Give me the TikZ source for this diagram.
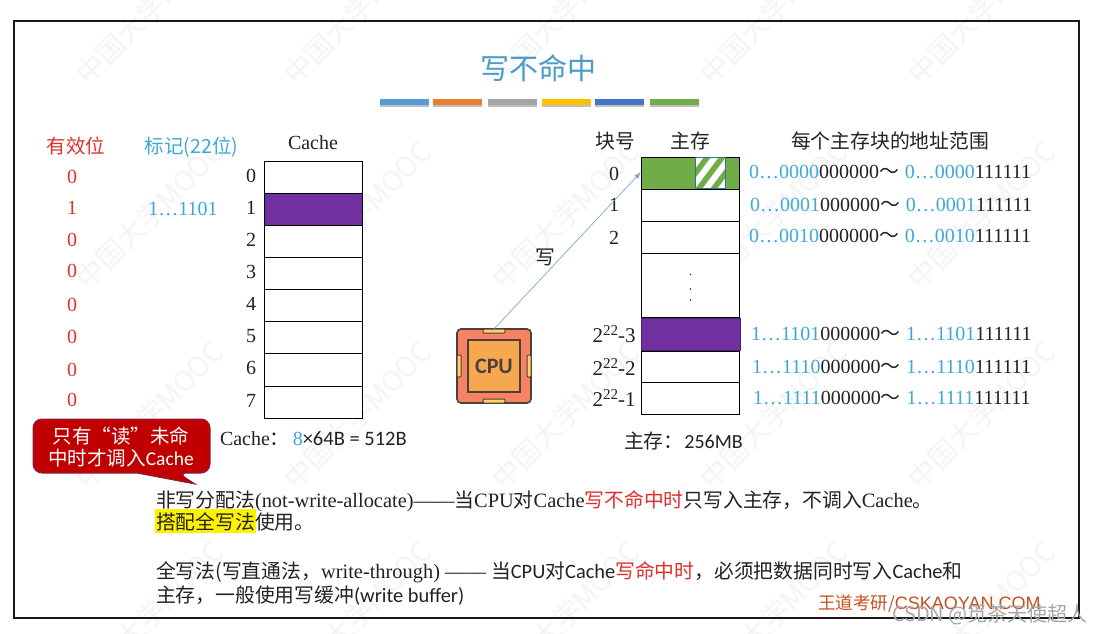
\documentclass[tikz,border=0pt]{standalone}
\usepackage{fontspec}
\usetikzlibrary{arrows.meta}
\setmainfont{Liberation Serif}
\newfontfamily\cjk{Noto Sans CJK SC}
\newfontfamily\cali{Carlito}
\newfontfamily\arl{Liberation Sans}
\definecolor{cblue}{HTML}{3FA9D6}
\definecolor{cred}{HTML}{E0302A}
\definecolor{ctitle}{HTML}{4A9CC8}
\definecolor{cpurple}{HTML}{7030A0}
\definecolor{cgreen}{HTML}{70AD47}
\definecolor{ink}{HTML}{222222}
\definecolor{wm}{HTML}{F4F4F4}
\definecolor{cpuline}{HTML}{4F3F3A}
\definecolor{cpuout}{HTML}{F78264}
\definecolor{cpuin}{HTML}{F6A850}
\definecolor{cpupin}{HTML}{FAD26E}
\definecolor{callfill}{HTML}{C00000}
\definecolor{callline}{HTML}{8A2040}
\definecolor{brandc}{HTML}{C5501E}
\definecolor{wline}{HTML}{7FA8D0}
\tikzset{
  x=1pt,y=-1pt,
  every node/.style={inner sep=0pt,outer sep=0pt,text=ink},
  cell/.style={draw=black,line width=0.9pt,fill=white},
  lbl/.style={font=\fontsize{20}{20}\selectfont},
  vbit/.style={font=\fontsize{20}{20}\selectfont,text=cred},
  zh/.style={font=\fontsize{19.8}{20}\cjk\selectfont},
  addr/.style={font=\fontsize{20}{20}\selectfont,anchor=west},
  para/.style={font=\fontsize{20.4}{20}\selectfont,anchor=west},
  wmark/.style={font=\fontsize{28}{28}\cjk\selectfont,text=wm,rotate=45},
  tbar/.style={minimum width=49pt,minimum height=6pt},
  pin/.style={fill=cpupin,draw=cpuline,line width=1pt,rounded corners=1pt}
}
\newcommand{\bl}[1]{\textcolor{cblue}{#1}}
\newcommand{\zz}[1]{{\cjk\fontsize{19.8}{20}\selectfont #1}}
\begin{document}
\begin{tikzpicture}
\useasboundingbox (0,0) rectangle (1100,634);
\fill[white] (0,0) rectangle (1100,634);
% watermarks
\foreach \yy in {75,280,480,680}{
  \foreach \xx in {85,293,501,709,917}{
    \node[wmark] (wm\xx\yy) at (\xx+65,\yy-65) {中国大学MOOC};
  }
}
\draw[line width=1.6pt,draw=black!90] (14,21) rectangle (1079,618);
% title
\node[font=\fontsize{29}{29}\cjk\selectfont,text=ctitle] (title) at (538.5,68) {写不命中};
\foreach \xx/\cc/\nn in {404.5/5B9BD5/a,457.5/ED7D31/b,512.5/A5A5A5/c,566.5/FFC000/d,619.5/4472C4/e,674.5/70AD47/f}{
  \definecolor{tmp}{HTML}{\cc}
  \fill[black!25] (\xx-24.5,100) rectangle (\xx+24.5,107);
  \node[tbar,fill=tmp] (bar\nn) at (\xx,102) {};
}
% headers
\node[font=\fontsize{19.5}{20}\cjk\selectfont,text=cred] (hvalid) at (76,146) {有效位};
\node[font=\fontsize{19.5}{20}\cjk\selectfont,text=cblue] (htag) at (191.5,147) {标记(22位)};
\node[lbl] (hcache) at (313,143) {Cache};
% valid
\foreach \i/\y/\v in {0/177/0,1/208/1,2/240/0,3/271/0,4/305/0,5/337/0,6/370/0,7/400/0}{
  \node[vbit] (v\i) at (72,\y) {\v};
}
\node[lbl,text=cblue] (tag1) at (183,209) {1…1101};
% cache
\foreach \i/\a/\h in {0/161/32,1/193/32,2/225/32,3/257/32,4/289/32,5/321/32,6/353/33,7/386/32}{
  \node[cell,anchor=north west,minimum width=98pt,minimum height=\h pt] (c\i) at (264.5,\a) {};
  \node[lbl] (ci\i) at (251,\a+15) {\i};
}
\node[cell,fill=cpurple,anchor=north west,minimum width=98pt,minimum height=32pt] (c1) at (264.5,193) {};
\node[anchor=west,font=\fontsize{20}{20}\selectfont] (csize) at (220,439) {Cache\zz{：}\hspace{3pt}\bl{8}{\cali\fontsize{20.5}{20}\selectfont ×64B = 512B}};
% callout
\draw[fill=callfill,draw=callline,line width=1pt,rounded corners=9pt]
  (33,419) -- (210,419) -- (210,473) -- (178,473) [sharp corners] -- (195,484) -- (137,473) [rounded corners=9pt] -- (33,473) -- cycle;
\node[font=\fontsize{19.5}{23}\cjk\selectfont,text=white,align=center] (calltxt) at (121,446.5) {只有“读”未命\\[-1pt]中时才调入{\cali Cache}};
% memory
\node[cell,fill=cgreen,anchor=north west,minimum width=98.5pt,minimum height=32pt] (m0) at (641,157) {};
\begin{scope}
  \clip (695,157.5) rectangle (725,188);
  \fill[white] (695,157) rectangle (725,189);
  \foreach \d in {-45,-30,...,45}{
    \fill[cgreen] (695+\d,189) -- (702+\d,189) -- (726+\d,157) -- (719+\d,157) -- cycle;
  }
\end{scope}
\draw[draw=cblue!70!black,line width=0.5pt] (695,157) rectangle (725,188);
\node[cell,anchor=north west,minimum width=98.5pt,minimum height=32pt] (m1) at (641,189) {};
\node[cell,anchor=north west,minimum width=98.5pt,minimum height=32pt] (m2) at (641,221) {};
\node[cell,anchor=north west,minimum width=98.5pt,minimum height=64pt] (mdots) at (641,253) {};
\node[cell,fill=cpurple,draw=cpurple!70!black,anchor=north west,minimum width=99.5pt,minimum height=32pt] (m3) at (641,318) {};
\node[cell,anchor=north west,minimum width=98.5pt,minimum height=31pt] (m4) at (641,351) {};
\node[cell,anchor=north west,minimum width=98.5pt,minimum height=32pt] (m5) at (641,382) {};
\foreach \i/\y in {1/274.5,2/289,3/300}{\fill[black!80] (690.5,\y) circle (0.8pt);}
\node[zh] (hblock) at (615,141) {块号};
\node[zh] (hmem) at (690,141) {主存};
\node[zh] (hrange) at (890,141) {每个主存块的地址范围};
\node[lbl] (bn0) at (614,174) {0};
\node[lbl] (bn1) at (614,205) {1};
\node[lbl] (bn2) at (614,238) {2};
\node[font=\fontsize{21}{21}\selectfont] (bn3) at (614,334) {2\raisebox{6.5pt}{\fontsize{15}{15}\selectfont 22}-3};
\node[font=\fontsize{21}{21}\selectfont] (bn4) at (614,367) {2\raisebox{6.5pt}{\fontsize{15}{15}\selectfont 22}-2};
\node[font=\fontsize{21}{21}\selectfont] (bn5) at (614,398) {2\raisebox{6.5pt}{\fontsize{15}{15}\selectfont 22}-1};
\node[anchor=west] (msize) at (624,441) {\zz{主存：}\hspace{1pt}{\cali\fontsize{20}{20}\selectfont 256MB}};
% addresses
\newcommand{\addrline}[4]{\node[addr] (#1) at (#2,#3) {\bl{#4}000000\zz{～}\hspace{6pt}\bl{#4}111111};}
\addrline{a0}{749}{172}{0…0000}
\addrline{a1}{750}{205}{0…0001}
\addrline{a2}{749}{236}{0…0010}
\addrline{a3}{751}{334}{1…1101}
\addrline{a4}{752}{367}{1…1110}
\addrline{a5}{753}{398}{1…1111}
% CPU
\draw[fill=cpuout,draw=cpuline,line width=1.6pt,rounded corners=4pt] (457,329) rectangle (531,403);
\draw[fill=cpuin,draw=cpuline,line width=1.5pt] (468,340) rectangle (520,392);
\draw[pin] (483,329) rectangle (505,333);
\draw[pin] (483,399) rectangle (505,403);
\draw[pin] (457,355) rectangle (461,377);
\draw[pin] (527,355) rectangle (531,377);
\node[minimum size=74pt] (cpu) at (494,366) {};
\node[font=\fontsize{22}{22}\cali\bfseries\selectfont,text=cpuline] (cputxt) at (494,366) {CPU};
\coordinate (wend) at (641,172);
\draw[-{Latex[length=7pt,width=5pt]},draw=wline,line width=0.7pt] (cpu.north) -- (wend);
\node[zh] (wlabel) at (545,257) {写};
% paragraphs
\node[para] (p1) at (156,501) {\zz{非写分配法}(not-write-allocate)——\zz{当}CPU\zz{对}Cache\textcolor{cred}{\zz{写不命中时}}\zz{只写入主存，不调入}Cache\zz{。}};
\node[anchor=north west,fill=yellow,minimum width=101pt,minimum height=24pt] (hl) at (155,509) {};
\node[para] (p2) at (156,522) {\zz{搭配全写法使用。}};
\node[para] (p3) at (156,572) {\zz{全写法(写直通法，}write-through) —— \zz{当}{\cali CPU}\zz{对}{\cali Cache}\textcolor{cred}{\zz{写命中时}}\zz{，必须把数据同时写入}{\cali Cache}\zz{和}};
\node[para] (p4) at (156,596) {\zz{主存，一般使用写缓冲}{\cali (write buffer)}};
\node[font=\fontsize{17.5}{18}\cjk\selectfont,text=brandc,anchor=west] (brand) at (818,604) {王道考研/{\arl\fontsize{18}{18}\selectfont CSKAOYAN.COM}};
\node[font=\fontsize{20}{20}\cjk\selectfont,text=black!35,anchor=west] (csdn) at (892,615) {CSDN @觅茶天使超人};
\end{tikzpicture}
\end{document}
